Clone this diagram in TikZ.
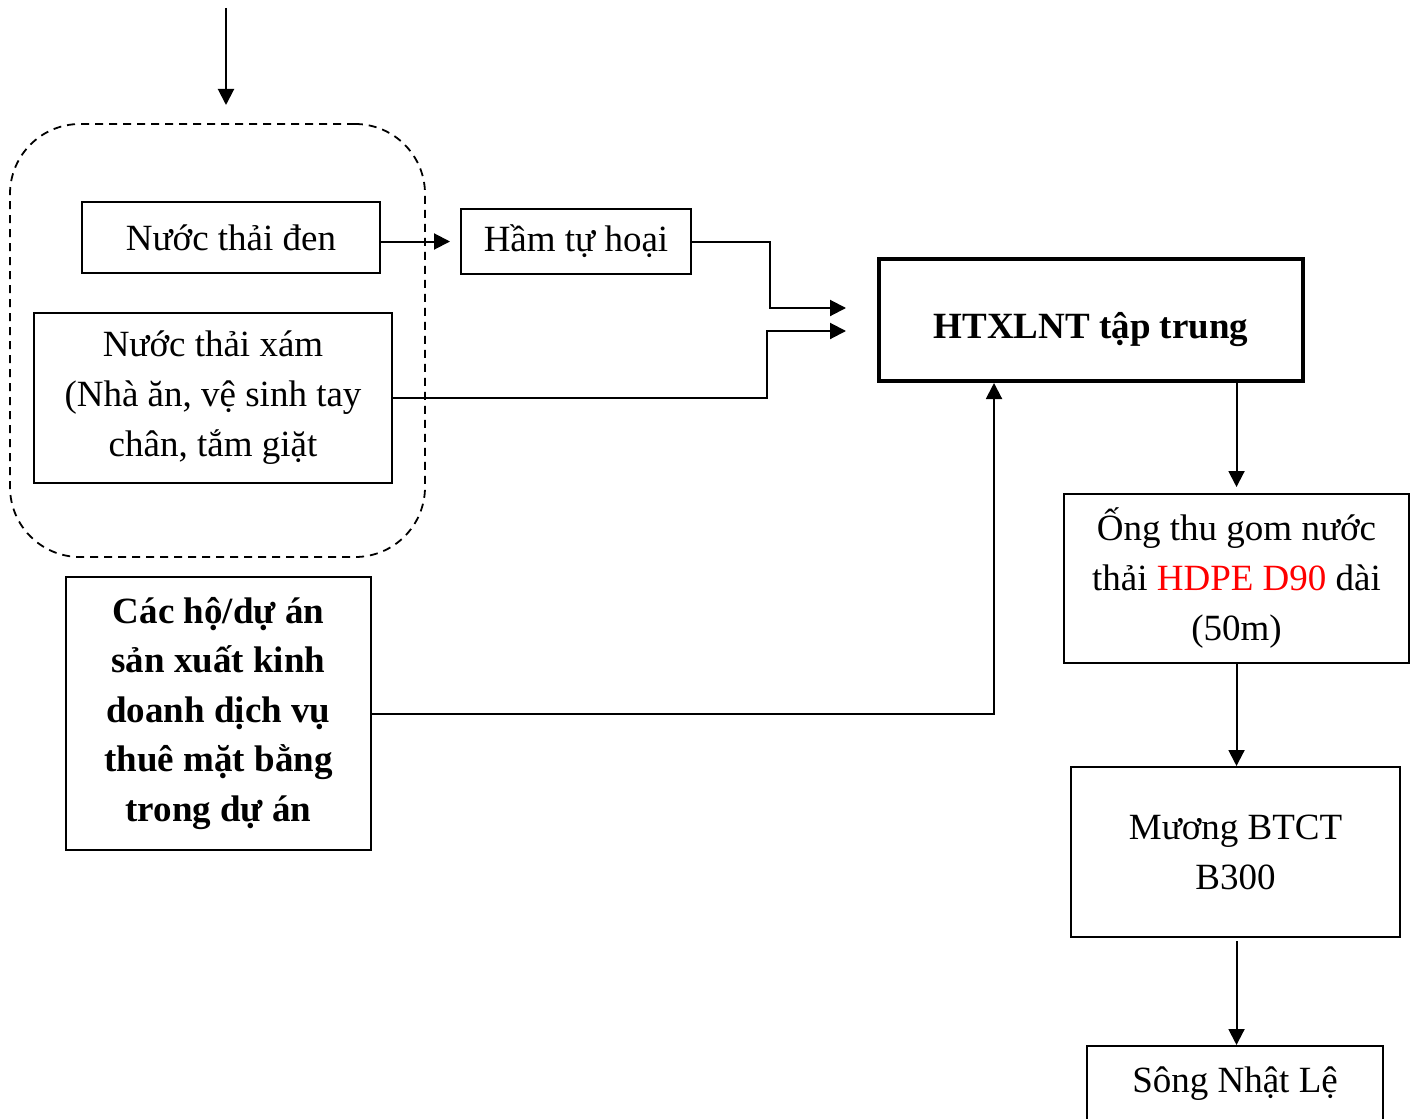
\documentclass[tikz,border=0pt]{standalone}
\usepackage{fontspec}
\setmainfont{Liberation Serif}
\usetikzlibrary{arrows.meta,calc}

\begin{document}
\begin{tikzpicture}[x=0.5pt,y=-0.5pt,
  hop/.style={draw,line width=1pt,align=center,inner sep=0pt,font=\fontsize{18.5}{25}\selectfont},
  muiten/.style={line width=1pt,-{Triangle[length=8pt,width=8pt]}},
  nhom/.style={draw,dashed,dash pattern=on 4pt off 3pt,line width=0.9pt,rounded corners=35pt,inner sep=0pt}]
\clip (0,0) rectangle (1416,1118);
% khung nuoc thai sinh hoat
\node [nhom,minimum width=207.5pt,minimum height=216.5pt] (nhom) at (217.5,340.5) {};
\node [hop,minimum width=149pt,minimum height=35.5pt] (den) at (231,237.5) {Nước thải đen};
\node [hop,minimum width=115pt,minimum height=32.5pt] (ham) at (576,241.5) {Hầm tự hoại};
\node [hop,minimum width=179pt,minimum height=85pt] (xam) at (213,398) {Nước thải xám\\(Nhà ăn, vệ sinh tay\\chân, tắm giặt};
\node [hop,line width=2pt,minimum width=212pt,minimum height=61pt,text height=22pt,text depth=4pt,font=\fontsize{18.5}{25}\selectfont\bfseries] (htx) at (1091,320) {HTXLNT tập trung};
\node [hop,minimum width=152.5pt,minimum height=136.5pt,font=\fontsize{18.5}{24.75}\selectfont\bfseries] (ho) at (218.5,713.5) {Các hộ/dự án\\sản xuất kinh\\doanh dịch vụ\\thuê mặt bằng\\trong dự án};
\node [hop,minimum width=172.5pt,minimum height=84.5pt] (ong) at (1236.5,578.5) {Ống thu gom nước\\thải \textcolor{red}{HDPE D90} dài\\(50m)};
\node [hop,minimum width=164.5pt,minimum height=85pt] (muong) at (1235.5,852) {Mương BTCT\\B300};
\node [hop,minimum width=148pt,minimum height=44pt,text height=13pt,text depth=11pt,anchor=north] (song) at (1235,1045) {Sông Nhật Lệ};
% dau vao
\coordinate (nguon) at (226,8);
\coordinate (vao) at (226,105);
\draw [muiten] (nguon) -- (vao);
% cac duong noi
\draw [muiten,shorten >=5pt] (den.east |- ham.west) -- (ham.west);
\draw [muiten,shorten >=15.5pt] (ham.east) -- ++(78,0) |- ([yshift=6pt]htx.west);
\draw [muiten,shorten >=15.5pt] (xam.east) -- ++(374,0) |- ([yshift=-5.5pt]htx.west);
\draw [muiten] (ho.east) -| ([xshift=-48.5pt]htx.south);
\draw [muiten,shorten >=3pt] (htx.south -| ong.north) -- (ong.north);
\draw [muiten] (ong.south) -- (ong.south |- muong.north);
\draw [muiten,shorten <=1.5pt] (ong.south |- muong.south) -- (ong.south |- song.north);
\end{tikzpicture}
\end{document}
